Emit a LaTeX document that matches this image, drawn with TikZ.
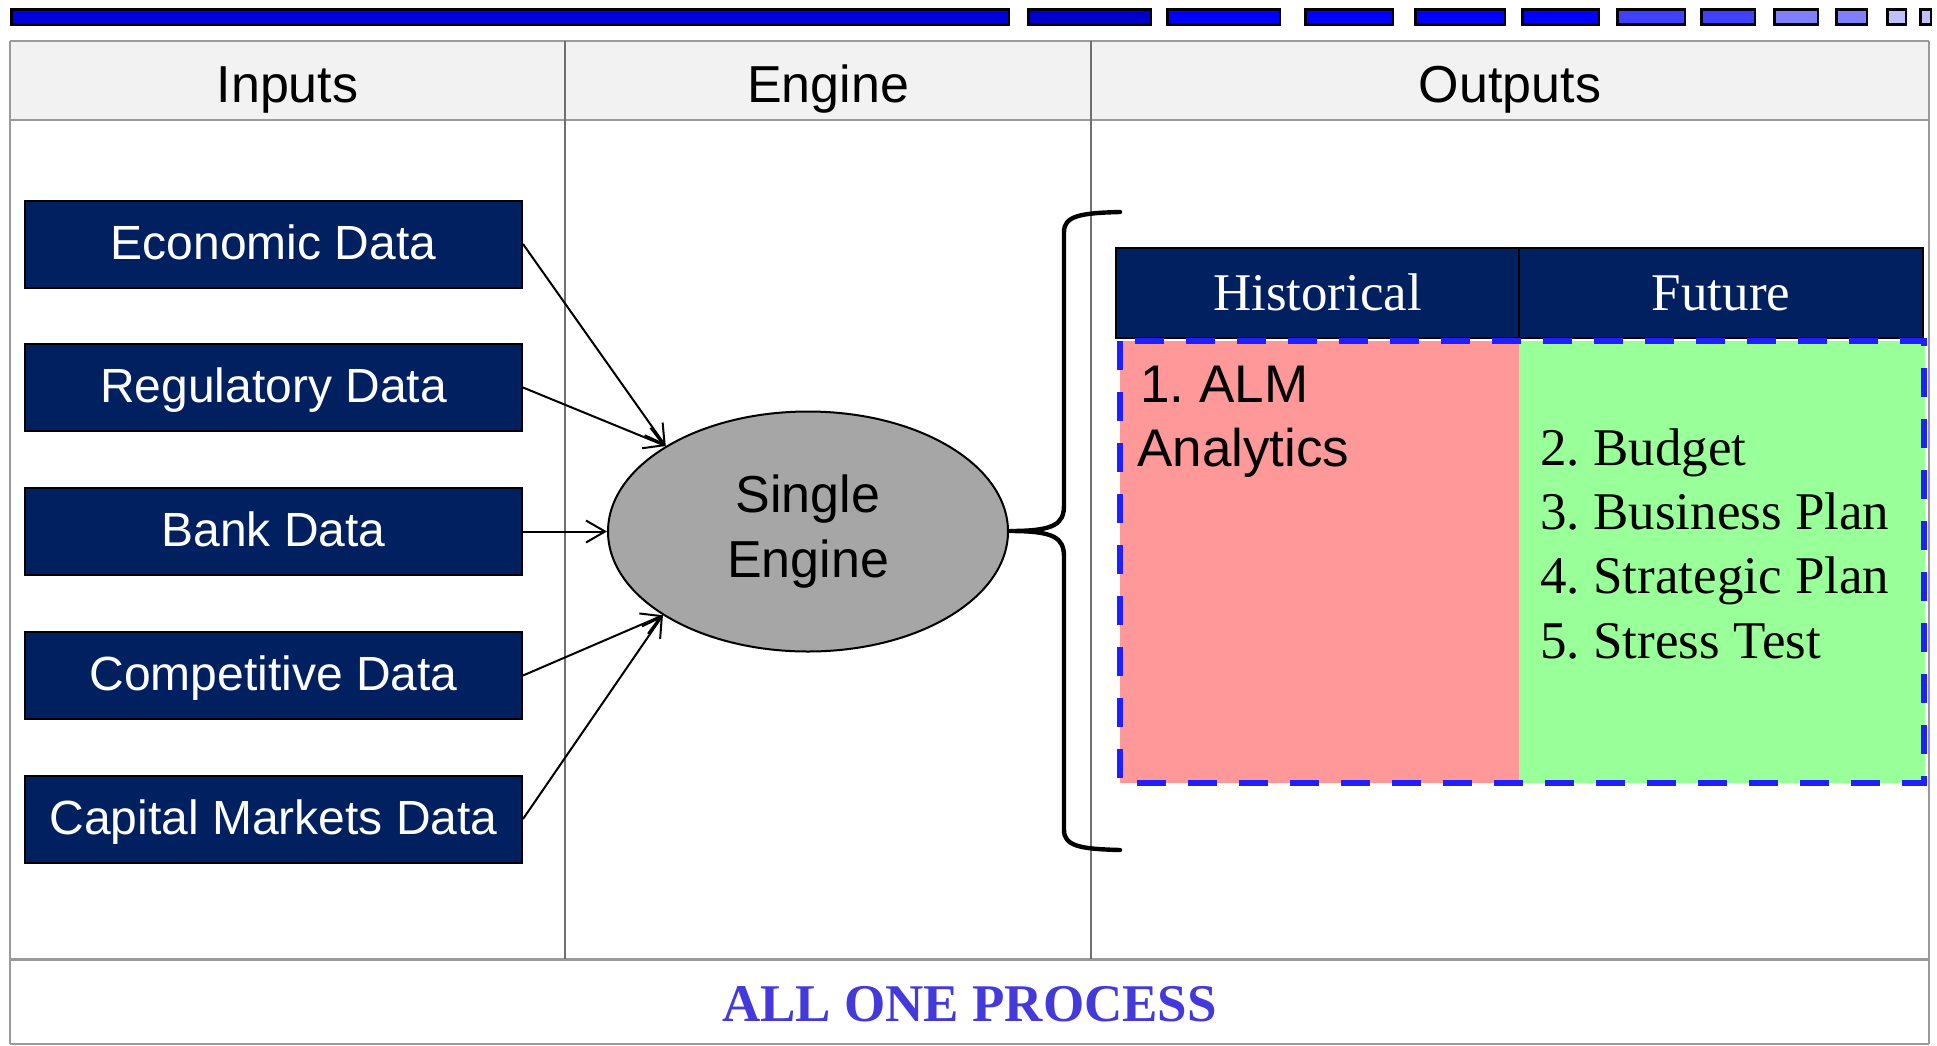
\documentclass[tikz,border=0pt]{standalone}
\usepackage{fontspec}
\setmainfont{Liberation Serif}
\newfontfamily\arialfont{Liberation Sans}
\usetikzlibrary{arrows.meta,shapes.geometric}
\frenchspacing

\definecolor{navy}{HTML}{002060}
\definecolor{hdrgray}{HTML}{F2F2F2}
\definecolor{gridgray}{HTML}{9A9A9A}
\definecolor{colgray}{HTML}{707070}
\definecolor{enginegray}{HTML}{A6A6A6}
\definecolor{histpink}{HTML}{FF9999}
\definecolor{futgreen}{HTML}{99FF99}
\definecolor{dashblue}{HTML}{2020FF}
\definecolor{titleblue}{HTML}{443ADC}
\definecolor{barA}{HTML}{0000DD}
\definecolor{barB}{HTML}{0000CC}
\definecolor{barC}{HTML}{0000FF}
\definecolor{barD}{HTML}{4040FF}
\definecolor{barE}{HTML}{8080FF}
\definecolor{barF}{HTML}{C0C0FF}

\tikzset{
  inbox/.style={draw=black, line width=1pt, fill=navy, text=white,
    font=\arialfont\fontsize{24}{28}\selectfont,
    minimum width=248.5pt, minimum height=43.5pt, inner sep=0pt,
    text height=16.5pt, text depth=1.5pt},
  colhead/.style={anchor=base, font=\arialfont\fontsize{26}{31}\selectfont},
  outhead/.style={draw=black, line width=1pt, fill=navy, text=white,
    font=\fontsize{26.5}{31}\selectfont, minimum height=45pt, inner sep=0pt,
    text height=17.5pt, text depth=0pt},
  sanslist/.style={anchor=base west, inner sep=0pt, font=\arialfont\fontsize{26.5}{32}\selectfont},
  seriflist/.style={anchor=base west, inner sep=0pt, font=\fontsize{26.5}{32}\selectfont},
  feed/.style={draw=black, line width=1pt, -{Straight Barb[length=9.5pt, width=11pt]}},
  barseg/.style={draw=black, line width=1.25pt},
}

\begin{document}
\begin{tikzpicture}[x=0.5pt, y=-0.5pt]
\useasboundingbox (0,0) rectangle (1937,1045);

% progress bar along the top
\foreach \a/\b/\c in {10/1010/barA, 1027/1152/barB, 1166/1281/barC, 1304/1394/barC,
    1414/1506/barC, 1521/1600/barC, 1616/1686/barD, 1700/1756/barD,
    1773/1819/barE, 1835/1868/barE, 1886/1907/barF, 1919/1932/barF}
  \draw[barseg, fill=\c] (\a+1.25,9.5) rectangle (\b-1.25,24.5);

% three-column frame
\fill[hdrgray] (10,41) rectangle (1929,120);
\draw[gridgray, line width=1pt] (10,41) -- (1929,41);
\draw[gridgray, line width=1pt] (10,120) -- (1929,120);
\draw[gridgray, line width=1.5pt] (10,959) -- (1929,959);
\draw[gridgray, line width=1pt] (10,1044) -- (1929,1044);
\draw[gridgray, line width=0.8pt] (10,41) -- (10,1044);
\draw[gridgray, line width=0.8pt] (1929,41) -- (1929,1044);
\draw[colgray, line width=0.6pt] (565,41) -- (565,959);
\draw[colgray, line width=0.6pt] (1091,41) -- (1091,959);

\node[colhead] (hin)  at (287.5,102) {Inputs};
\node[colhead] (heng) at (828,102)   {Engine};
\node[colhead] (hout) at (1510,102)  {Outputs};

% input data sources
\node[inbox] (eco)  at (273.5,244)   {Economic Data};
\node[inbox] (reg)  at (273.5,387.5) {Regulatory Data};
\node[inbox] (bank) at (273.5,531.5) {Bank Data};
\node[inbox] (comp) at (273.5,675.5) {Competitive Data};
\node[inbox] (cap)  at (273.5,819)   {Capital Markets Data};

% engine
\node[ellipse, draw=black, line width=1pt, fill=enginegray,
      minimum width=200pt, minimum height=120pt, inner sep=0pt, align=center,
      font=\arialfont\fontsize{26}{32.5}\selectfont] (engine) at (808,531.5)
      {Single\\Engine};

\draw[feed] (eco.east)  -- (engine.149.4);
\draw[feed] (reg.east)  -- (engine.149.4);
\draw[feed] (bank.east) -- (engine.west);
\draw[feed] (comp.east) -- (engine.210.6);
\draw[feed] (cap.east)  -- (engine.210.6);

% brace gathering the outputs
\draw[black, line width=2.2pt, line cap=round, line join=round]
  (1120,212) .. controls (1080,213) and (1064,216) .. (1064,232)
  -- (1064,505) .. controls (1064,524) and (1055,531) .. (1010,531)
  .. controls (1055,531) and (1064,538) .. (1064,557)
  -- (1064,830) .. controls (1064,846) and (1080,849) .. (1120,850);

% outputs table
\fill[histpink] (1120,341) rectangle (1519,783);
\fill[futgreen] (1519,341) rectangle (1925,783);

\node[outhead, minimum width=201.5pt] (hist) at (1317.5,293) {Historical};
\node[outhead, minimum width=202pt]   (fut)  at (1721,293)   {Future};

\draw[dashblue, line width=2.75pt, dash pattern=on 14.5pt off 11pt]
  (1120,341) rectangle (1924,783);

\node[sanslist] (alm1) at (1140,402) {1. ALM};
\node[sanslist] (alm2) at (1137,466) {Analytics};

\node[seriflist] (o2) at (1540,465) {2. Budget};
\node[seriflist] (o3) at (1540,529) {3. Business Plan};
\node[seriflist] (o4) at (1540,593) {4. Strategic Plan};
\node[seriflist] (o5) at (1540,658) {5. Stress Test};

% footer
\node[anchor=base, text=titleblue, font=\bfseries\fontsize{26.5}{31}\selectfont]
  (proc) at (969.5,1021) {ALL ONE PROCESS};
\end{tikzpicture}
\end{document}
